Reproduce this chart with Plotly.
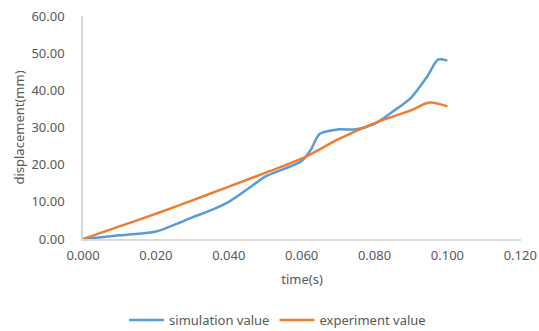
import plotly.graph_objects as go

sim_t = [0, 0.005, 0.01, 0.015, 0.02, 0.025, 0.03, 0.035, 0.04, 0.045, 0.05, 0.055, 0.06, 0.0625, 0.065, 0.07, 0.075, 0.08, 0.085, 0.09, 0.0945, 0.0975, 0.1]
sim_v = [0, 0.5, 1.0, 1.4, 2.0, 3.8, 5.8, 7.7, 10.0, 13.3, 16.8, 18.8, 21.0, 24.0, 28.3, 29.5, 29.5, 31.0, 34.3, 38.0, 43.8, 48.3, 48.0]

exp_t = [0, 0.01, 0.02, 0.03, 0.04, 0.05, 0.06, 0.07, 0.08, 0.09, 0.095, 0.1]
exp_v = [0, 3.4, 6.8, 10.4, 14.1, 17.8, 21.6, 26.8, 31.2, 34.6, 36.7, 35.7]

x_ticks = [0, 0.02, 0.04, 0.06, 0.08, 0.1, 0.12]
y_ticks = [0, 10, 20, 30, 40, 50, 60]

font = "Noto Sans, Open Sans, sans-serif"
grey = "#595959"

fig = go.Figure()
fig.add_trace(go.Scatter(x=sim_t, y=sim_v, mode="lines", name="simulation value",
                         line=dict(color="#5B9BD5", width=2.5, shape="spline", smoothing=0.8)))
fig.add_trace(go.Scatter(x=exp_t, y=exp_v, mode="lines", name="experiment value",
                         line=dict(color="#ED7D31", width=2.5, shape="spline", smoothing=0.8)))

fig.update_layout(
    width=539, height=331,
    margin=dict(l=83, r=18, t=16, b=92, autoexpand=False),
    paper_bgcolor="white", plot_bgcolor="white",
    font=dict(family=font, size=13, color=grey),
    showlegend=True,
    legend=dict(orientation="h", xref="container", x=0.515, xanchor="center",
                yref="container", y=0.033, yanchor="middle",
                font=dict(size=13, color=grey), itemwidth=35),
    xaxis=dict(range=[0, 0.1202], tickvals=x_ticks, ticktext=[f"{v:.3f}" for v in x_ticks],
               showgrid=False, zeroline=False, showline=True, linecolor="#d9d9d9", linewidth=1.5,
               ticks="", ticklabelstandoff=4, automargin=False, ticklabeloverflow="allow",
               title=dict(text="time(s)", font=dict(size=13, color=grey), standoff=12)),
    yaxis=dict(range=[0, 60], tickvals=y_ticks, ticktext=[f"{v:.2f}" for v in y_ticks],
               showgrid=False, zeroline=False, showline=True, linecolor="#d9d9d9", linewidth=1.5,
               ticks="", ticklabelstandoff=14, automargin=False,
               title=dict(text="displacement(mm)", font=dict(size=13, color=grey), standoff=4)),
)

fig.write_html("out.html", config={"displayModeBar": False},
               post_script="document.body.style.margin='0px';")
